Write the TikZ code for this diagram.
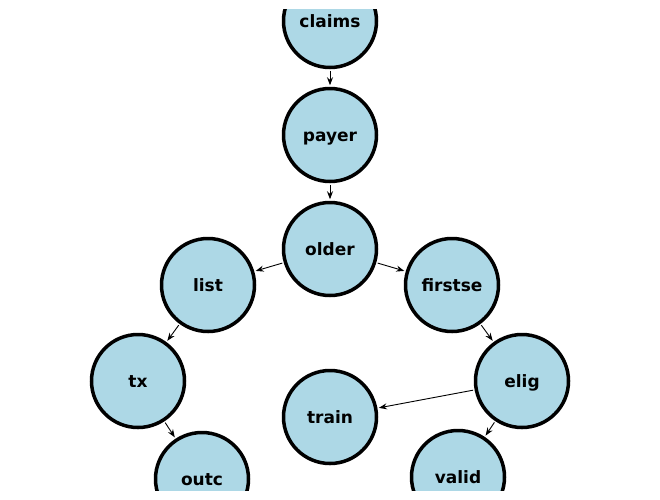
\documentclass[tikz,border=0pt]{standalone}
\usepackage{fontspec}
\setmainfont{DejaVu Sans}
\usetikzlibrary{arrows.meta}
\begin{document}
\begin{tikzpicture}[x=1pt,y=-1pt,
  nd/.style={circle,draw=black,line width=3.5pt,fill=nodeblue,minimum size=93pt,inner sep=0pt,text height=14pt,text depth=2pt,font=\fontsize{17}{19}\selectfont\bfseries},
  ar/.style={-{Stealth[length=8pt,width=6pt]},line width=0.9pt,shorten >=1.5pt,shorten <=1.5pt}]
\definecolor{nodeblue}{HTML}{ADD8E6}
\useasboundingbox (0,0) rectangle (660,499);
\begin{scope}
\clip (0,9) rectangle (660,490);
\node[nd] (claims) at (330,21) {claims};
\node[nd] (payer) at (330,135) {payer};
\node[nd] (older) at (330,249) {older};
\node[nd] (list) at (208,285) {list};
\node[nd] (firstse) at (452,285) {firstse};
\node[nd] (tx) at (138,381) {tx};
\node[nd] (elig) at (522,381) {elig};
\node[nd] (train) at (330,417) {train};
\node[nd] (outc) at (202,479) {outc};
\node[nd] (valid) at (458,477) {valid};
\draw[ar] (claims) -- (payer);
\draw[ar] (payer) -- (older);
\draw[ar] (older) -- (list);
\draw[ar] (older) -- (firstse);
\draw[ar] (list) -- (tx);
\draw[ar] (firstse) -- (elig);
\draw[ar] (tx) -- (outc);
\draw[ar] (elig) -- (valid);
\draw[ar] (elig) -- (train);
\end{scope}
\end{tikzpicture}
\end{document}
